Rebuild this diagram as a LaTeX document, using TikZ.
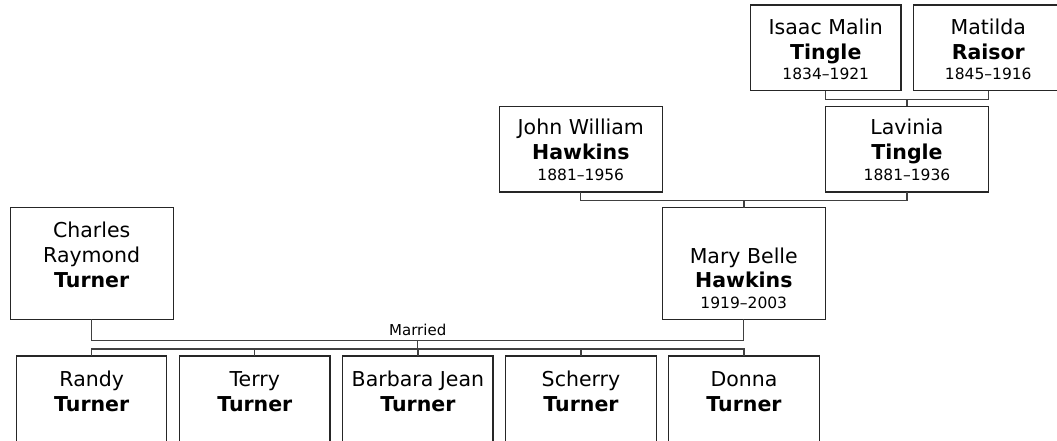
\documentclass[tikz,border=0pt]{standalone}
\usepackage{fontspec}
\setmainfont{DejaVu Sans}
\usetikzlibrary{calc}
\tikzset{
  pbox/.style={draw=black!85, line width=1.2pt, fill=white, inner sep=0pt},
  shortbox/.style={pbox, minimum height=85.5pt},
  tallbox/.style={pbox, minimum height=111.6pt},
  widebox/.style={minimum width=163pt},
  narrowbox/.style={minimum width=150.3pt},
  nm/.style={anchor=base, inner sep=0pt, font=\fontsize{20.5}{25}\selectfont},
  sn/.style={anchor=base, inner sep=0pt, font=\fontsize{20.5}{25}\selectfont\bfseries},
  dt/.style={anchor=base, inner sep=0pt, font=\fontsize{15.5}{18}\selectfont},
  conn/.style={draw=black!75, line width=1.2pt, line cap=rect, line join=miter},
}
\begin{document}
\begin{tikzpicture}[x=1pt, y=-1pt]
\useasboundingbox[fill=white] (0,0) rectangle (1057,441);

% Generation 1
\node[shortbox, narrowbox] (isaac) at (825.8,47.85) {};
\node[nm] (isaacg) at ($(isaac.north)+(0,30)$) {Isaac Malin};
\node[sn] (isaacs) at ($(isaac.north)+(0,55)$) {Tingle};
\node[dt] (isaacd) at ($(isaac.north)+(0,75.5)$) {1834–1921};

\node[shortbox, narrowbox] (matilda) at (988.3,47.85) {};
\node[nm] (matildag) at ($(matilda.north)+(0,30)$) {Matilda};
\node[sn] (matildas) at ($(matilda.north)+(0,55)$) {Raisor};
\node[dt] (matildad) at ($(matilda.north)+(0,75.5)$) {1845–1916};

% Generation 2
\node[shortbox, widebox] (john) at (580.8,149.2) {};
\node[nm] (johng) at ($(john.north)+(0,29)$) {John William};
\node[sn] (johns) at ($(john.north)+(0,54)$) {Hawkins};
\node[dt] (johnd) at ($(john.north)+(0,75)$) {1881–1956};

\node[shortbox, widebox] (lavinia) at (907,149.2) {};
\node[nm] (laviniag) at ($(lavinia.north)+(0,29)$) {Lavinia};
\node[sn] (lavinias) at ($(lavinia.north)+(0,54)$) {Tingle};
\node[dt] (laviniad) at ($(lavinia.north)+(0,75)$) {1881–1936};

% Generation 3
\node[tallbox, widebox] (charles) at (91.7,263.5) {};
\node[nm] (charlesg1) at ($(charles.north)+(0,30.5)$) {Charles};
\node[nm] (charlesg2) at ($(charles.north)+(0,55.5)$) {Raymond};
\node[sn] (charless) at ($(charles.north)+(0,80.5)$) {Turner};

\node[tallbox, widebox] (mary) at (743.8,263.5) {};
\node[nm] (maryg) at ($(mary.north)+(0,56)$) {Mary Belle};
\node[sn] (marys) at ($(mary.north)+(0,80.5)$) {Hawkins};
\node[dt] (maryd) at ($(mary.north)+(0,101)$) {1919–2003};

% Children
\foreach \id/\x/\g in {randy/91.7/Randy, terry/254.8/Terry, barbara/417.9/Barbara Jean, scherry/581/Scherry, donna/744/Donna}{
  \node[pbox, narrowbox, minimum height=86pt] (\id) at (\x,399) {};
  \node[nm] (\id g) at ($(\id.north)+(0,31)$) {\g};
  \node[sn] (\id s) at ($(\id.north)+(0,56)$) {Turner};
}

% Connectors: Isaac + Matilda -> Lavinia
\draw[conn] (isaac.south) -- ++(0,8) -| (matilda.south);
\coordinate (imj) at ($(isaac.south)!.5!(matilda.south)+(0,8)$);
\draw[conn] (imj) -- (imj |- lavinia.north);

% John + Lavinia -> Mary
\draw[conn] (john.south) -- ++(0,7.7) -| (lavinia.south);
\coordinate (jlj) at ($(john.south)!.5!(lavinia.south)+(0,7.7)$);
\draw[conn] (jlj) -- (jlj |- mary.north);

% Charles + Mary -> children
\draw[conn] (charles.south) -- ++(0,20.7) -| (mary.south);
\coordinate (cmj) at ($(charles.south)!.5!(mary.south)+(0,20.7)$);
\node[dt, font=\fontsize{15}{18}\selectfont] (married) at ($(cmj)+(0,-4.8)$) {Married};
\coordinate (kidbar) at ($(cmj)+(0,8.3)$);
\draw[conn] (cmj) -- (kidbar);
\draw[conn] (randy.north |- kidbar) -- (donna.north |- kidbar);
\foreach \id in {randy, terry, barbara, scherry, donna}{
  \draw[conn] (\id.north |- kidbar) -- (\id.north);
}
\end{tikzpicture}
\end{document}
